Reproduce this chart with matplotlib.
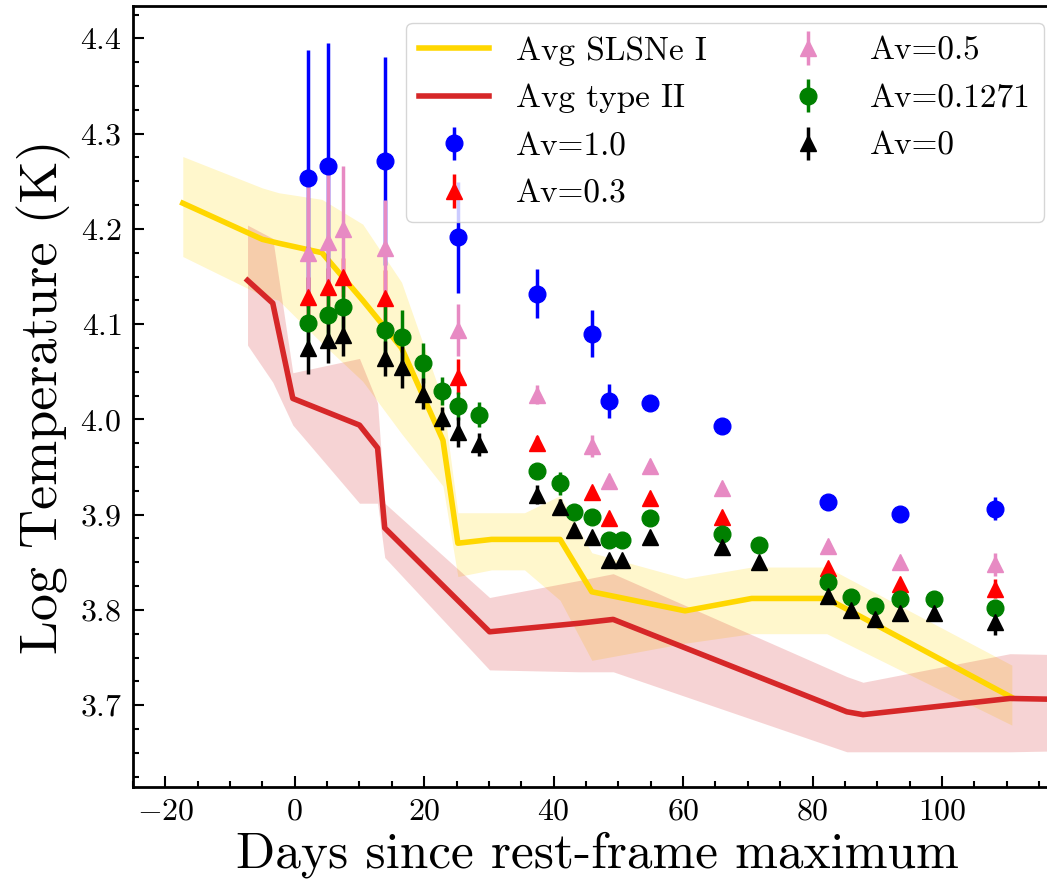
import numpy as np
import matplotlib
matplotlib.use("Agg")
import matplotlib.pyplot as plt
from matplotlib.ticker import AutoMinorLocator, MultipleLocator

plt.rcParams['font.family'] = 'cmr10'
plt.rcParams['mathtext.fontset'] = 'cm'
plt.rcParams['axes.formatter.use_mathtext'] = True

# average SLSNe I curve and its band
sl_days = [-17.3, -5.0, -2.5, 4.2, 10.5, 16.5, 22.9, 25.2, 30.4, 35.5, 41.0, 45.9, 60.3, 70.6, 82.2, 110.8]
sl_mean = [4.227, 4.189, 4.185, 4.175, 4.125, 4.075, 3.978, 3.870, 3.874, 3.874, 3.874, 3.819, 3.799, 3.812, 3.812, 3.708]
sl_upper = [4.276, 4.243, 4.238, 4.231, 4.205, 4.144, 4.020, 3.902, 3.902, 3.902, 3.920, 3.860, 3.833, 3.845, 3.845, 3.742]
sl_lower = [4.171, 4.130, 4.125, 4.080, 4.040, 3.985, 3.930, 3.835, 3.842, 3.842, 3.810, 3.747, 3.765, 3.775, 3.775, 3.679]

# average type II curve and its band
t2_days = [-7.3, -3.4, -0.3, 10.0, 12.8, 13.9, 30.1, 44.0, 49.2, 85.3, 87.8, 110.5, 118.5]
t2_mean = [4.146, 4.122, 4.022, 3.994, 3.970, 3.886, 3.777, 3.786, 3.790, 3.693, 3.690, 3.707, 3.706]
t2_upper = [4.204, 4.190, 4.049, 4.064, 4.017, 3.912, 3.813, 3.831, 3.838, 3.730, 3.724, 3.754, 3.753]
t2_lower = [4.078, 4.039, 3.994, 3.912, 3.912, 3.855, 3.737, 3.735, 3.735, 3.651, 3.651, 3.651, 3.652]

# Av = 1.0
av10_days = [2.0, 5.1, 13.9, 25.2, 37.4, 45.9, 48.6, 54.9, 66.0, 82.4, 93.5, 108.2]
av10_T = [4.253, 4.266, 4.271, 4.191, 4.132, 4.090, 4.019, 4.017, 3.993, 3.913, 3.901, 3.906]
av10_err = [0.135, 0.129, 0.109, 0.058, 0.026, 0.025, 0.018, 0.005, 0.004, 0.008, 0.006, 0.012]

# Av = 0.3
av03_days = [2.0, 5.1, 7.5, 13.9, 25.2, 37.4, 45.9, 48.6, 54.9, 66.0, 82.4, 93.5, 108.2]
av03_T = [4.129, 4.139, 4.149, 4.127, 4.045, 3.975, 3.924, 3.896, 3.917, 3.898, 3.844, 3.827, 3.822]
av03_err = [0.02, 0.02, 0.02, 0.03, 0.018, 0.008, 0.006, 0.004, 0.004, 0.004, 0.004, 0.004, 0.01]

# Av = 0.5
av05_days = [2.0, 5.1, 7.5, 13.9, 25.2, 37.4, 45.9, 48.6, 54.9, 66.0, 82.4, 93.5, 108.2]
av05_T = [4.175, 4.186, 4.200, 4.180, 4.094, 4.026, 3.972, 3.935, 3.951, 3.928, 3.867, 3.850, 3.848]
av05_err = [0.075, 0.075, 0.066, 0.05, 0.027, 0.01, 0.012, 0.005, 0.004, 0.005, 0.005, 0.005, 0.012]

# Av = 0.1271 and Av = 0 share epochs
days = [2.0, 5.1, 7.5, 13.9, 16.6, 19.8, 22.8, 25.2, 28.5, 37.4, 41.0, 43.1, 45.9, 48.6, 50.5,
        54.9, 66.0, 71.8, 82.4, 86.0, 89.7, 93.5, 98.8, 108.2]
av01_T = [4.101, 4.110, 4.118, 4.094, 4.087, 4.059, 4.030, 4.014, 4.005, 3.946, 3.933, 3.903, 3.898, 3.873, 3.873,
          3.896, 3.880, 3.868, 3.829, 3.814, 3.804, 3.811, 3.811, 3.802]
av01_err = [0.025, 0.025, 0.03, 0.028, 0.028, 0.021, 0.015, 0.015, 0.013, 0.008, 0.012, 0.006, 0.005, 0.004, 0.004,
            0.004, 0.004, 0.004, 0.005, 0.004, 0.004, 0.004, 0.004, 0.006]
av0_T = [4.075, 4.083, 4.089, 4.064, 4.055, 4.027, 4.001, 3.987, 3.974, 3.921, 3.908, 3.884, 3.876, 3.852, 3.852,
         3.877, 3.866, 3.850, 3.815, 3.800, 3.790, 3.797, 3.797, 3.787]
av0_err = [0.027, 0.024, 0.022, 0.018, 0.022, 0.016, 0.012, 0.016, 0.012, 0.01, 0.008, 0.006, 0.005, 0.004, 0.004,
           0.004, 0.005, 0.004, 0.004, 0.004, 0.004, 0.004, 0.004, 0.013]

fig = plt.figure(figsize=(10.47, 8.88), dpi=100)
ax = fig.add_axes([0.127, 0.1137, 0.8864, 0.8795])

ax.fill_between(sl_days, sl_lower, sl_upper, color='gold', alpha=0.2, lw=0)
ax.fill_between(t2_days, t2_lower, t2_upper, color='tab:red', alpha=0.2, lw=0)
ax.plot(sl_days, sl_mean, color='gold', lw=4, label='Avg SLSNe I')
ax.plot(t2_days, t2_mean, color='tab:red', lw=4, label='Avg type II')

ms = 12
ax.errorbar(av10_days, av10_T, yerr=av10_err, fmt='o', color='b', ms=ms, elinewidth=2.5, label='Av=1.0')
ax.errorbar(av03_days, av03_T, yerr=av03_err, fmt='^', color='r', ms=ms, elinewidth=2.5, label='Av=0.3')
ax.errorbar(av05_days, av05_T, yerr=av05_err, fmt='^', color='#e78ac3', ms=ms, elinewidth=2.5, label='Av=0.5')
ax.errorbar(days, av01_T, yerr=av01_err, fmt='o', color='g', ms=ms, elinewidth=2.5, label='Av=0.1271')
ax.errorbar(days, av0_T, yerr=av0_err, fmt='^', color='k', ms=ms, elinewidth=2.5, label='Av=0')

ax.set_xlim(-25, 118.4)
ax.set_ylim(3.614, 4.434)
ax.xaxis.set_major_locator(MultipleLocator(20))
ax.yaxis.set_major_locator(MultipleLocator(0.1))
ax.xaxis.set_minor_locator(AutoMinorLocator(4))
ax.yaxis.set_minor_locator(AutoMinorLocator(4))
ax.tick_params(which='both', direction='in', top=False, right=False, labelsize=23, width=1.5)
ax.tick_params(which='major', length=8, pad=8)
ax.tick_params(which='minor', length=4.5)
for sp in ax.spines.values():
    sp.set_linewidth(2)

ax.set_xlabel('Days since rest-frame maximum', fontsize=37, labelpad=4)
ax.set_ylabel('Log Temperature (K)', fontsize=39, labelpad=6)

ax.legend(loc='upper right', ncol=2, fontsize=24, handlelength=2.1, columnspacing=2.0,
          labelspacing=0.55)

fig.savefig('out.png', dpi=100)
